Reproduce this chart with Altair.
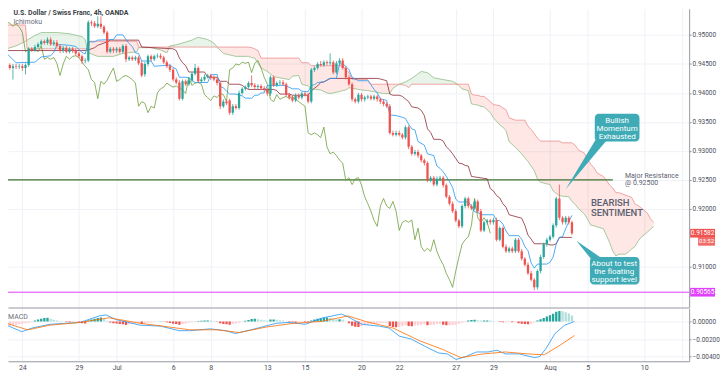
import altair as alt
import pandas as pd

# ---------------- candle data (price x 10000) ----------------
open_ = [9476,9448,9443,9446,9445,9446,9443,9448,9476,9474,
         9479,9484,9489,9486,9492,9484,9487,9481,9473,9478,
         9471,9476,9473,9468,9463,9455,9456,9522,9520,9515,
         9519,9514,9504,9471,9476,9473,9476,9471,9481,9458,
         9461,9458,9461,9451,9432,9450,9463,9458,9463,9464,
         9461,9453,9446,9440,9423,9418,9390,9420,9415,9422,
         9433,9443,9420,9423,9428,9430,9427,9423,9417,9377,
         9385,9387,9366,9377,9374,9400,9407,9410,9417,9413,
         9410,9412,9408,9405,9399,9427,9413,9417,9418,9415,
         9397,9392,9387,9395,9392,9399,9397,9385,9440,9443,
         9450,9448,9453,9451,9453,9435,9451,9456,9443,9427,
         9415,9389,9385,9397,9389,9392,9394,9390,9394,9389,
         9385,9381,9377,9331,9328,9331,9328,9323,9341,9307,
         9295,9298,9292,9284,9279,9249,9254,9242,9252,9254,
         9241,9221,9209,9196,9180,9170,9205,9218,9205,9201,
         9213,9196,9163,9177,9180,9177,9181,9147,9167,9135,
         9127,9132,9127,9147,9127,9114,9104,9089,9078,9065,
         9093,9117,9139,9147,9152,9172,9218,9185,9177,9185,
         9177]
high_ = [9481,9451,9450,9450,9450,9450,9451,9479,9479,9483,
         9487,9492,9492,9496,9496,9491,9491,9484,9481,9481,
         9479,9479,9476,9471,9466,9460,9525,9525,9524,9532,
         9532,9517,9507,9479,9479,9479,9479,9484,9484,9464,
         9464,9464,9464,9455,9453,9466,9466,9466,9468,9468,
         9464,9456,9450,9443,9427,9422,9423,9423,9425,9436,
         9450,9446,9427,9432,9433,9433,9430,9427,9420,9389,
         9389,9390,9381,9381,9404,9410,9413,9420,9430,9417,
         9415,9415,9412,9408,9430,9430,9420,9422,9422,9418,
         9400,9395,9399,9399,9402,9402,9400,9443,9446,9453,
         9455,9456,9456,9468,9456,9455,9460,9460,9446,9430,
         9418,9392,9400,9400,9395,9397,9397,9397,9397,9392,
         9389,9384,9381,9335,9335,9335,9331,9344,9344,9310,
         9302,9302,9295,9287,9282,9257,9257,9256,9257,9257,
         9244,9224,9213,9200,9183,9208,9221,9221,9208,9216,
         9216,9200,9180,9183,9183,9185,9185,9170,9170,9139,
         9135,9135,9150,9150,9131,9117,9108,9093,9081,9096,
         9121,9142,9150,9155,9175,9221,9242,9188,9188,9188,
         9180]
low_ = [9443,9440,9423,9441,9441,9438,9432,9445,9471,9471,
        9476,9481,9483,9483,9481,9481,9478,9469,9469,9468,
        9468,9469,9464,9460,9450,9451,9453,9515,9512,9512,
        9510,9501,9468,9468,9469,9469,9468,9468,9453,9455,
        9455,9455,9448,9427,9428,9446,9455,9455,9460,9458,
        9450,9443,9436,9420,9415,9387,9387,9412,9412,9418,
        9430,9417,9417,9420,9425,9422,9420,9413,9372,9374,
        9379,9362,9362,9371,9371,9397,9404,9407,9410,9407,
        9407,9405,9402,9395,9395,9410,9410,9413,9412,9394,
        9389,9384,9384,9389,9389,9394,9382,9382,9436,9440,
        9445,9445,9448,9448,9432,9432,9448,9440,9423,9412,
        9385,9382,9382,9385,9385,9389,9387,9387,9385,9381,
        9377,9374,9328,9325,9325,9325,9320,9320,9303,9292,
        9292,9288,9280,9275,9246,9246,9239,9239,9249,9237,
        9218,9206,9193,9177,9167,9167,9201,9201,9198,9198,
        9193,9160,9160,9173,9173,9173,9144,9144,9132,9124,
        9124,9124,9124,9124,9111,9101,9086,9075,9060,9061,
        9089,9114,9135,9144,9149,9168,9181,9173,9173,9173,
        9155]
close_ = [9448,9443,9446,9445,9446,9443,9448,9476,9474,9479,
          9484,9489,9486,9492,9484,9487,9481,9473,9478,9471,
          9476,9473,9468,9463,9455,9456,9522,9520,9515,9519,
          9514,9504,9471,9476,9473,9476,9471,9481,9458,9461,
          9458,9461,9451,9430,9450,9463,9458,9463,9464,9461,
          9453,9446,9440,9423,9418,9390,9420,9415,9422,9433,
          9443,9420,9423,9428,9430,9427,9423,9417,9377,9385,
          9382,9366,9377,9374,9400,9407,9410,9417,9413,9410,
          9412,9408,9405,9399,9427,9413,9417,9418,9415,9397,
          9392,9387,9395,9392,9399,9397,9385,9440,9443,9450,
          9448,9453,9451,9453,9435,9451,9456,9443,9427,9415,
          9389,9385,9397,9389,9392,9394,9390,9394,9389,9385,
          9381,9377,9331,9328,9331,9328,9323,9341,9307,9295,
          9298,9292,9284,9279,9249,9254,9242,9252,9254,9241,
          9221,9209,9196,9180,9170,9205,9218,9205,9201,9213,
          9196,9163,9177,9180,9177,9181,9147,9167,9135,9127,
          9132,9127,9147,9127,9114,9104,9089,9078,9065,9093,
          9117,9139,9147,9152,9172,9218,9185,9177,9185,9177,
          9158]

# ---------------- Ichimoku lines (price x 10000) ----------------
tenkan_bar = [0,3,9,11,14,15,16,18,20,22,23,24,25,26,28,29,33,34,35,37,
              38,39,40,41,42,43,46,47,52,53,54,55,57,58,59,60,64,65,67,68,
              69,70,71,73,74,75,76,78,79,80,81,82,83,88,89,91,93,94,96,97,
              98,99,101,103,105,106,107,108,109,110,112,115,116,117,118,119,121,122,124,126,
              127,128,129,130,131,133,134,136,137,138,139,140,141,142,143,144,147,148,149,150,
              151,155,156,157,158,159,160,163,164,165,166,167,168,169,172,173,174,175,176,177,
              178,179,180]
tenkan_val = [9468,9452,9453,9462,9464,9470,9483,9483,9482,9480,9475,9470,9467,9488,9488,9491,9492,9492,9500,9500,
              9492,9485,9480,9469,9468,9455,9455,9446,9448,9444,9441,9427,9427,9426,9422,9418,9418,9431,9432,9411,
              9409,9403,9398,9398,9396,9395,9391,9391,9396,9396,9400,9400,9413,9413,9412,9407,9407,9403,9402,9413,
              9414,9418,9419,9425,9425,9450,9450,9446,9440,9427,9421,9421,9414,9406,9400,9390,9387,9362,9361,9358,
              9356,9346,9338,9336,9316,9310,9295,9292,9274,9270,9264,9256,9247,9237,9217,9212,9212,9205,9195,9194,
              9190,9190,9180,9180,9174,9162,9154,9154,9148,9135,9128,9107,9098,9105,9105,9108,9117,9140,9151,9152,
              9166,9178,9189]
kijun_bar = [0,25,26,28,29,32,33,42,43,53,54,55,56,57,58,63,64,67,68,70,
             71,74,75,76,77,85,86,87,90,91,96,97,98,99,100,101,103,118,119,121,
             122,123,125,126,128,129,131,132,133,134,135,136,138,139,140,141,142,143,144,145,
             146,147,148,153,154,155,156,157,158,159,160,164,165,166,167,168,172,173,174,175,
             176,180]
kijun_val = [9473,9473,9474,9478,9482,9488,9491,9491,9479,9476,9473,9460,9452,9447,9436,9436,9427,9427,9420,9420,
             9415,9415,9413,9409,9406,9406,9404,9398,9398,9396,9396,9403,9408,9412,9418,9419,9425,9425,9424,9421,
             9398,9396,9396,9394,9385,9376,9374,9370,9361,9338,9332,9320,9320,9317,9307,9302,9295,9287,9279,9278,
             9275,9274,9256,9252,9235,9231,9223,9219,9209,9203,9190,9184,9172,9155,9148,9140,9140,9138,9138,9140,
             9151,9151]
cloud_bar = [0,3,6,6.5,9,11,16,20,24,25,26,26.5,29,34,37,41.5,42,46,49,51,
             52,54,56,59,61,64,66,67,69,73,77,78,79,80,81,83,85,86,90,91,
             93,94,96,97,100,102,103,105,107,108,109,110,113,115,116,117,120,122,123,125,
             127,128,129,132,134,136,139,142,144,145,147,148,149,150,151,152,154,155,157,158,
             159,160,162,164,165,166,167,168,169,170,173,174,176,177,179,180,181,182,184,185,
             186,187,188,190,191,192,193,194,195,196,197,198,199,200,201,202,204,205,206]
span_a = [9476,9481,9489,9491,9499,9504,9504,9502,9497,9492,9470,9468,9463,9463,9468,9471,9478,9478,9474,9469,
          9481,9483,9486,9491,9496,9492,9486,9479,9468,9463,9463,9461,9460,9451,9443,9437,9428,9427,9423,9429,
          9430,9415,9412,9407,9405,9400,9399,9401,9404,9405,9409,9408,9405,9404,9403,9402,9399,9399,9408,9415,
          9419,9422,9425,9437,9435,9426,9423,9420,9413,9407,9404,9381,9380,9379,9377,9376,9366,9357,9345,9341,
          9335,9316,9306,9295,9288,9282,9274,9266,9252,9246,9242,9231,9223,9222,9221,9213,9208,9201,9191,9182,
          9172,9171,9169,9166,9154,9142,9127,9119,9122,9122,9122,9126,9131,9135,9144,9151,9160,9165,9170]
span_b = [9517,9517,9517,9476,9476,9476,9476,9476,9476,9476,9476,9489,9489,9489,9489,9489,9479,9479,9479,9479,
          9479,9479,9479,9479,9479,9479,9479,9479,9479,9479,9479,9478,9476,9473,9460,9460,9460,9460,9460,9460,
          9460,9452,9452,9447,9447,9447,9447,9447,9447,9440,9435,9423,9423,9423,9415,9415,9415,9415,9415,9415,
          9413,9409,9415,9415,9415,9415,9415,9415,9415,9415,9415,9398,9396,9396,9394,9394,9385,9380,9378,9374,
          9371,9357,9353,9353,9353,9343,9337,9330,9322,9317,9317,9317,9317,9314,9314,9314,9310,9302,9296,9285,
          9277,9271,9262,9256,9249,9241,9236,9228,9228,9226,9224,9222,9220,9209,9206,9202,9193,9183,9177]
chikou_lag = 26

# ---------------- MACD (values x 100000) ----------------
macd_bar = [0,4.8,8.2,13.8,23.4,29.5,31.7,34.8,42.5,49,54.9,58.3,64.8,69.8,72.8,77.8,85.8,89.9,95.1,100.7,
            106.6,108.7,113.1,118.6,121.7,125.1,128.8,134.4,137.5,140.3,143.1,146.2,149.6,153.3,156.1,158.8,163.2,168.1,169.7,171.8,
            174.6,177.7,180.8]
macd_val = [-42,-116,-74,-32,-11,63,74,21,-42,-53,-105,-105,-84,-105,-137,-95,-21,-11,-32,42,
            84,53,-32,-53,-74,-168,-200,-305,-358,-369,-432,-400,-347,-347,-326,-369,-369,-411,-400,-305,
            -137,-42,0]
signal_bar = [0,6.7,13.8,23.4,32.6,42.5,49.6,58.3,67,74.1,82.7,91.4,100.1,108.7,114.3,123,131.6,138.7,144.6,151.7,
              158.8,165.9,171.2,176.2,180.8]
signal_val = [-21,-95,-42,-11,42,-21,-53,-95,-95,-126,-63,-21,0,63,0,-74,-221,-316,-411,-369,
              -347,-369,-379,-270,-160]
hist_val = [-53,-50,-42,-38,-30,-26,-21,-16,-10,10,21,32,40,42,32,20,10,5,0,-5,
            -10,-10,-5,-10,-20,-22,10,22,32,40,46,30,8,-12,-20,-24,-30,-32,-40,-32,
            -26,-20,-18,-30,-22,-15,-10,-5,0,2,-3,-10,-18,-26,-30,-36,-30,-22,-15,-10,
            -5,5,8,10,12,10,6,-3,-20,-30,-32,-36,-30,-22,-15,-5,8,18,28,30,
            26,20,15,10,22,22,20,15,10,2,-5,-10,-15,-12,-5,-6,-10,12,22,30,
            36,42,46,40,32,26,26,20,0,-20,-50,-60,-62,-52,-42,-36,-30,-25,-22,-18,
            -16,-15,-52,-62,-66,-60,-52,-44,-52,-54,-46,-42,-36,-30,-42,-40,-36,-30,-30,-36,
            -42,-42,-40,-36,-25,-15,-5,10,16,20,15,10,10,12,10,6,0,-6,-10,-10,
            -6,-10,-10,-20,-26,-30,-32,-22,-10,10,26,40,56,72,88,110,120,115,105,90,
            68]

# ---------------- levels / axes ----------------
resistance = 0.92500
resistance_end_bar = 193
support_mark = 0.90565
last_price = 0.91582
countdown = "03:52"
day_ticks = [5, 23, 35, 53, 65, 83, 95, 113, 125, 143, 155, 173, 185, 203, 215]
day_labels = ['24', '29', 'Jul', '6', '8', '13', '15', '20', '22', '27', '29', 'Aug', '5', '10', '']
price_ticks = [0.91, 0.92, 0.925, 0.93, 0.935, 0.94, 0.945, 0.95]
macd_ticks = [0.0, -0.002, -0.004]

# ---------------- geometry (reference pixel frame -> data) ----------------
W, H_TOP, H_MACD = 684, 300, 53


def bar_ref(px):       # reference-image x pixel -> bar index
    return (px - 1.5) / 3.2333


def price_ref(py):     # reference-image y pixel -> price
    return 0.95582 - py * 0.0001645


def macd_ref(py):      # reference-image y pixel -> MACD value
    return (336 - py) / 9500.0


X_MIN, X_MAX = bar_ref(8), bar_ref(699)
Y_MIN, Y_MAX = price_ref(321), price_ref(8)
M_MIN, M_MAX = macd_ref(379), macd_ref(322)

FONT = "Roboto"
AX_COL = "#9598a1"
GRID = "#eef1f6"
TXT = "#4a4e59"
UP, DOWN = "#26a69a", "#ef5350"
TEAL = "#3eabb6"

n = len(close_)
cdf = pd.DataFrame({
    "bar": list(range(n)),
    "open": [v / 1e4 for v in open_],
    "high": [v / 1e4 for v in high_],
    "low": [v / 1e4 for v in low_],
    "close": [v / 1e4 for v in close_],
})
cdf["dir"] = ["up" if c >= o else "down" for o, c in zip(open_, close_)]

tdf = pd.DataFrame({"bar": tenkan_bar, "v": [v / 1e4 for v in tenkan_val]})
kdf = pd.DataFrame({"bar": kijun_bar, "v": [v / 1e4 for v in kijun_val]})
chdf = pd.DataFrame({"bar": [i - chikou_lag for i in range(chikou_lag, n)],
                     "v": [v / 1e4 for v in close_[chikou_lag:]]})
cl = pd.DataFrame({"bar": cloud_bar, "a": [v / 1e4 for v in span_a], "b": [v / 1e4 for v in span_b]})
cl["hi"] = cl[["a", "b"]].max(axis=1)

xs = alt.Scale(domain=[X_MIN, X_MAX], nice=False, zero=False)
ys = alt.Scale(domain=[Y_MIN, Y_MAX], nice=False, zero=False)
x_axis_top = alt.Axis(values=day_ticks, labels=False, ticks=False, domain=True, domainColor=AX_COL,
                      grid=True, gridColor=GRID, title=None)
y_axis = alt.Axis(orient="right", values=price_ticks, format=".5f", labelFontSize=6.5, labelColor=TXT,
                  labelFont=FONT, tickSize=2, tickColor=AX_COL, domainColor=AX_COL, grid=True,
                  gridColor=GRID, title=None, labelPadding=1)


def X(f):
    return alt.X(f"{f}:Q", scale=xs, axis=x_axis_top)


def Y(f):
    return alt.Y(f"{f}:Q", scale=ys, axis=y_axis)


pink = alt.Chart(cl).mark_area(color="#f44336", opacity=0.13, clip=True).encode(x=X("bar"), y=Y("a"), y2="hi")
green = alt.Chart(cl).mark_area(color="#43a047", opacity=0.12, clip=True).encode(x=X("bar"), y=Y("b"), y2="hi")
la = alt.Chart(cl).mark_line(color="#8fbf85", strokeWidth=0.8, clip=True).encode(x=X("bar"), y=Y("a"))
lb = alt.Chart(cl).mark_line(color="#ec8f8f", strokeWidth=0.8, clip=True).encode(x=X("bar"), y=Y("b"))

res_df = pd.DataFrame({"bar": [X_MIN - 5, resistance_end_bar], "v": [resistance, resistance]})
res = alt.Chart(res_df).mark_line(color="#3f7230", strokeWidth=1.2, clip=True).encode(x=X("bar"), y=Y("v"))
sup_df = pd.DataFrame({"bar": [X_MIN - 5, X_MAX + 5], "v": [support_mark, support_mark]})
sup = alt.Chart(sup_df).mark_line(color="#e040fb", strokeWidth=1, clip=True).encode(x=X("bar"), y=Y("v"))

chikou = alt.Chart(chdf).mark_line(color="#6d9e3a", strokeWidth=0.8, clip=True).encode(x=X("bar"), y=Y("v"))
kijun = alt.Chart(kdf).mark_line(color="#8e2b36", strokeWidth=0.8, clip=True).encode(x=X("bar"), y=Y("v"))
tenkan = alt.Chart(tdf).mark_line(color="#2196f3", strokeWidth=0.8, clip=True).encode(x=X("bar"), y=Y("v"))

cscale = alt.Scale(domain=["up", "down"], range=[UP, DOWN])
wick = alt.Chart(cdf).mark_rule(strokeWidth=0.8, clip=True).encode(
    x=X("bar"), y=Y("low"), y2="high", color=alt.Color("dir:N", scale=cscale, legend=None))
body = alt.Chart(cdf).mark_bar(size=2.3, clip=True).encode(
    x=X("bar"), y=Y("open"), y2="close", color=alt.Color("dir:N", scale=cscale, legend=None))


def txt(s, rx, ry, size=7, color=TXT, weight="normal", align="left", baseline="middle", lh=None):
    df = pd.DataFrame({"bar": [bar_ref(rx)], "p": [price_ref(ry)]})
    return alt.Chart(df).mark_text(text=s, fontSize=size, font=FONT, color=color, fontWeight=weight,
                                   align=align, baseline=baseline, lineBreak="\n",
                                   lineHeight=lh or size + 1.5).encode(x=X("bar"), y=Y("p"))


def box(rx0, rx1, ry0, ry1, color, r=0):
    df = pd.DataFrame({"b0": [bar_ref(rx0)], "b1": [bar_ref(rx1)],
                       "p0": [price_ref(ry0)], "p1": [price_ref(ry1)]})
    return alt.Chart(df).mark_rect(color=color, cornerRadius=r).encode(
        x=X("b0"), x2="b1", y=Y("p0"), y2="p1")


def pointer(tip, base1, base2):
    (xa, ya), (xb, yb), (xc, yc) = sorted([tip, base1, base2])
    ymid = ya + (xb - xa) / (xc - xa) * (yc - ya)
    df = pd.DataFrame({"bar": [bar_ref(xa), bar_ref(xb), bar_ref(xc)],
                       "t": [price_ref(ya), price_ref(yb), price_ref(yc)],
                       "u": [price_ref(ya), price_ref(ymid), price_ref(yc)]})
    return alt.Chart(df).mark_area(color=TEAL).encode(x=X("bar"), y=Y("t"), y2="u")


def side_label(price, text, color, dy=0.0, x0=1, x1=26, size=6.5):
    df = pd.DataFrame({"p": [price], "p0": [price + 0.00075 + dy], "p1": [price - 0.00075 + dy],
                       "pc": [price + dy]})
    r = alt.Chart(df).mark_rect(color=color).encode(
        x=alt.value(W + x0), x2=alt.value(W + x1), y=Y("p0"), y2="p1")
    t = alt.Chart(df).mark_text(text=text, fontSize=size, font=FONT, color="white", align="center",
                                baseline="middle").encode(x=alt.value(W + (x0 + x1) / 2), y=Y("pc"))
    return [r, t]


annot = [
    pointer((577, 197), (608, 145), (620, 145)),
    box(607, 653, 118, 147, TEAL, 4),
    txt("Bullish\nMomentum\nExhausted", 630, 125.5, size=8, color="white", align="center", lh=8),
    pointer((588, 251), (603, 270), (615, 270)),
    box(602, 653, 268, 297, TEAL, 4),
    txt("About to test\nthe floating\nsupport level", 627, 275.5, size=8, color="white", align="center", lh=8),
    txt("BEARISH\nSENTIMENT", 603, 212, size=9.5, color="#5b6170", weight=500, lh=10),
    txt("Major Resistance\n@ 0.92500", 638, 183, size=7, color="#5b6170", lh=7),
    txt("U.S. Dollar / Swiss Franc, 4h, OANDA", 8.5, 8.5, size=7, color="#3c3f47", weight="bold", baseline="top"),
    txt("Ichimoku", 8.5, 17.5, size=7, color="#6a6d78", baseline="top"),
]
annot += side_label(last_price, "%.5f" % last_price, DOWN)
annot += side_label(last_price, countdown, "#f26b68", dy=-0.0014, x0=9, x1=26, size=6)
annot += side_label(support_mark, "%.5f" % support_mark, "#e040fb")

top = alt.layer(pink, green, la, lb, res, sup, chikou, kijun, tenkan, wick, body, *annot).properties(
    width=W, height=H_TOP)

# ---------------- MACD panel ----------------
hcol = []
prev = 0
for h in hist_val:
    if h >= 0:
        hcol.append(UP if h >= prev else "#b2dfdb")
    else:
        hcol.append(DOWN if h < prev else "#ffcdd2")
    prev = h
hdf = pd.DataFrame({"bar": list(range(len(hist_val))), "h": [v / 1e5 for v in hist_val], "c": hcol})
mdf = pd.DataFrame({"bar": macd_bar, "v": [v / 1e5 for v in macd_val]})
sdf = pd.DataFrame({"bar": signal_bar, "v": [v / 1e5 for v in signal_val]})

label_expr = " : ".join(f"datum.value == {b} ? '{s}'" for b, s in zip(day_ticks, day_labels)) + " : ''"
x_axis_bot = alt.Axis(values=day_ticks, labelExpr=label_expr, labelFontSize=7, labelColor=TXT, labelFont=FONT,
                      ticks=False, domain=True, domainColor=AX_COL, grid=True, gridColor=GRID, title=None,
                      labelPadding=2)
ms = alt.Scale(domain=[M_MIN, M_MAX], nice=False, zero=False)
m_axis = alt.Axis(orient="right", values=macd_ticks, format=".5f", labelFontSize=6.5, labelColor=TXT,
                  labelFont=FONT, tickSize=2, tickColor=AX_COL, domainColor=AX_COL, grid=True,
                  gridColor=GRID, title=None, labelPadding=1)


def MX(f):
    return alt.X(f"{f}:Q", scale=xs, axis=x_axis_bot)


def MY(f):
    return alt.Y(f"{f}:Q", scale=ms, axis=m_axis)


hist = alt.Chart(hdf).mark_bar(size=2.3, clip=True).encode(
    x=MX("bar"), y=MY("h"), y2=alt.datum(0), color=alt.Color("c:N", scale=None))
macd_line = alt.Chart(mdf).mark_line(color="#2196f3", strokeWidth=0.8, clip=True).encode(x=MX("bar"), y=MY("v"))
sig_line = alt.Chart(sdf).mark_line(color="#ff6d00", strokeWidth=0.8, clip=True).encode(x=MX("bar"), y=MY("v"))
macd_title = alt.Chart(pd.DataFrame({"k": [0]})).mark_text(
    text="MACD", fontSize=7, font=FONT, color="#6a6d78", align="left", baseline="middle"
).encode(x=alt.value(0), y=alt.value(9))

bottom = alt.layer(hist, macd_line, sig_line, macd_title).properties(width=W, height=H_MACD)

chart = alt.vconcat(top, bottom, spacing=1).properties(
    padding={"left": 0, "top": 0, "right": 0, "bottom": 0}
).configure_view(stroke=None)

chart.save("out.html", embed_options={"renderer": "svg", "actions": False})
